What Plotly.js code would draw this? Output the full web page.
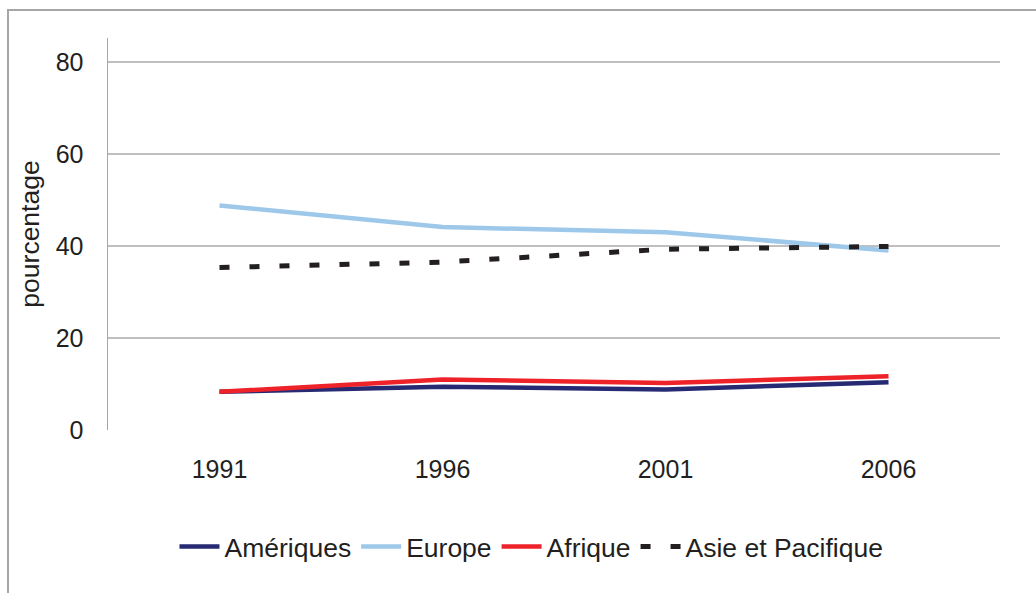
<!DOCTYPE html>
<html>
<head>
<meta charset="utf-8">
<script src="https://cdn.plot.ly/plotly-3.0.1.min.js"></script>
<style>
html,body{margin:0;padding:0;background:#fff;}
#wrap{position:relative;width:1036px;height:593px;overflow:hidden;}
#chart{width:1036px;height:593px;}
#frame{position:absolute;left:7px;top:9px;width:1100px;height:700px;border:2px solid #a6a6a6;pointer-events:none;box-sizing:border-box;}
</style>
</head>
<body>
<div id="wrap"><div id="chart"></div><div id="frame"></div></div>
<script>
const years = ["1991", "1996", "2001", "2006"];
const ameriques = [8.3, 9.4, 8.8, 10.4];
const europe = [48.8, 44.1, 43.0, 39.0];
const afrique = [8.3, 11.0, 10.2, 11.7];
const asie = [35.3, 36.5, 39.3, 39.9];
const seriesNames = ["Amériques", "Europe", "Afrique", "Asie et Pacifique"];
const yTicks = [0, 20, 40, 60, 80];

const font = "Liberation Sans, Arial, sans-serif";
const traces = [
  {x: years, y: ameriques, name: seriesNames[0], mode: "lines", line: {color: "#262a73", width: 4.5}},
  {x: years, y: europe, name: seriesNames[1], mode: "lines", line: {color: "#9dc8ea", width: 4.5}},
  {x: years, y: afrique, name: seriesNames[2], mode: "lines", line: {color: "#ee2229", width: 4.5}},
  {x: years, y: asie, name: seriesNames[3], mode: "lines", line: {color: "#231f20", width: 5, dash: "10px,20px"}}
];
const layout = {
  width: 1036, height: 593,
  margin: {l: 108, r: 36, t: 38, b: 163},
  paper_bgcolor: "#fff", plot_bgcolor: "#fff",
  font: {family: font, size: 25, color: "#231f20"},
  showlegend: true,
  legend: {orientation: "h", xref: "container", yref: "container", x: 0.513, xanchor: "center", y: 0.078, yanchor: "middle", font: {size: 26.5}, traceorder: "normal", itemwidth: 40},
  xaxis: {type: "category", range: [-0.5, 3.5], showgrid: false, zeroline: false, showline: false, ticks: "", ticklabelstandoff: 22, tickfont: {size: 25}},
  yaxis: {range: [0, 85.2], tickvals: yTicks, showgrid: true, gridcolor: "#bfbfbf", gridwidth: 1.5, zeroline: false, showline: true, linecolor: "#a6a6a6", linewidth: 1.5, ticks: "", ticklabelstandoff: 18, tickfont: {size: 25},
    title: {text: "pourcentage", font: {size: 26.5}, standoff: 8}}
};
Plotly.newPlot("chart", traces, layout, {displayModeBar: false, staticPlot: true});
</script>
</body>
</html>
